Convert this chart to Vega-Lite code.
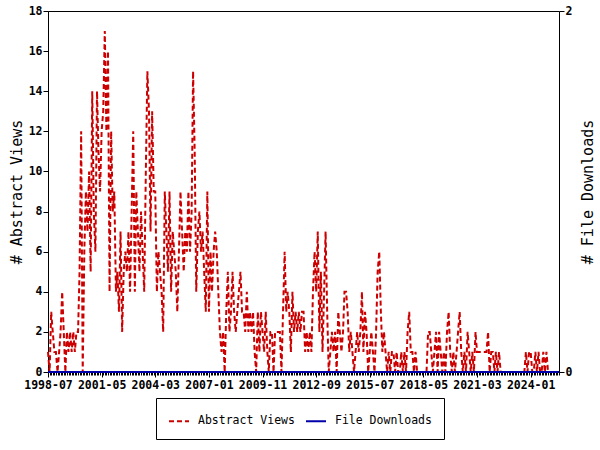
{
"$schema": "https://vega.github.io/schema/vega-lite/v6.json",
"width": 511, "height": 361,
"autosize": {"type": "none"},
"padding": {"left": 48, "top": 11, "right": 41, "bottom": 78},
"config": {"view": {"stroke": "black", "strokeWidth": 1}, "font": "DejaVu Sans Mono",
  "axis": {"grid": false, "domainColor": "black", "tickColor": "black", "labelColor": "black", "titleColor": "black"}},
"data": {"values": [
{"d":"1998-07-01","v":1,"dl":0},{"d":"1998-08-01","v":0,"dl":0},{"d":"1998-09-01","v":3,"dl":0},{"d":"1998-10-01","v":2,"dl":0},{"d":"1998-11-01","v":1,"dl":0},{"d":"1998-12-01","v":1,"dl":0},
{"d":"1999-01-01","v":0,"dl":0},{"d":"1999-02-01","v":1,"dl":0},{"d":"1999-03-01","v":2,"dl":0},{"d":"1999-04-01","v":4,"dl":0},{"d":"1999-05-01","v":2,"dl":0},{"d":"1999-06-01","v":0,"dl":0},{"d":"1999-07-01","v":2,"dl":0},{"d":"1999-08-01","v":1,"dl":0},{"d":"1999-09-01","v":2,"dl":0},{"d":"1999-10-01","v":1,"dl":0},{"d":"1999-11-01","v":2,"dl":0},{"d":"1999-12-01","v":1,"dl":0},
{"d":"2000-01-01","v":2,"dl":0},{"d":"2000-02-01","v":2,"dl":0},{"d":"2000-03-01","v":5,"dl":0},{"d":"2000-04-01","v":12,"dl":0},{"d":"2000-05-01","v":0,"dl":0},{"d":"2000-06-01","v":6,"dl":0},{"d":"2000-07-01","v":9,"dl":0},{"d":"2000-08-01","v":7,"dl":0},{"d":"2000-09-01","v":10,"dl":0},{"d":"2000-10-01","v":5,"dl":0},{"d":"2000-11-01","v":14,"dl":0},{"d":"2000-12-01","v":8,"dl":0},
{"d":"2001-01-01","v":6,"dl":0},{"d":"2001-02-01","v":14,"dl":0},{"d":"2001-03-01","v":11,"dl":0},{"d":"2001-04-01","v":9,"dl":0},{"d":"2001-05-01","v":12,"dl":0},{"d":"2001-06-01","v":13,"dl":0},{"d":"2001-07-01","v":17,"dl":0},{"d":"2001-08-01","v":12,"dl":0},{"d":"2001-09-01","v":16,"dl":0},{"d":"2001-10-01","v":4,"dl":0},{"d":"2001-11-01","v":12,"dl":0},{"d":"2001-12-01","v":8,"dl":0},
{"d":"2002-01-01","v":9,"dl":0},{"d":"2002-02-01","v":4,"dl":0},{"d":"2002-03-01","v":5,"dl":0},{"d":"2002-04-01","v":3,"dl":0},{"d":"2002-05-01","v":7,"dl":0},{"d":"2002-06-01","v":2,"dl":0},{"d":"2002-07-01","v":5,"dl":0},{"d":"2002-08-01","v":6,"dl":0},{"d":"2002-09-01","v":5,"dl":0},{"d":"2002-10-01","v":7,"dl":0},{"d":"2002-11-01","v":4,"dl":0},{"d":"2002-12-01","v":8,"dl":0},
{"d":"2003-01-01","v":12,"dl":0},{"d":"2003-02-01","v":4,"dl":0},{"d":"2003-03-01","v":9,"dl":0},{"d":"2003-04-01","v":7,"dl":0},{"d":"2003-05-01","v":5,"dl":0},{"d":"2003-06-01","v":8,"dl":0},{"d":"2003-07-01","v":6,"dl":0},{"d":"2003-08-01","v":4,"dl":0},{"d":"2003-09-01","v":10,"dl":0},{"d":"2003-10-01","v":15,"dl":0},{"d":"2003-11-01","v":13,"dl":0},{"d":"2003-12-01","v":7,"dl":0},
{"d":"2004-01-01","v":13,"dl":0},{"d":"2004-02-01","v":9,"dl":0},{"d":"2004-03-01","v":9,"dl":0},{"d":"2004-04-01","v":4,"dl":0},{"d":"2004-05-01","v":6,"dl":0},{"d":"2004-06-01","v":5,"dl":0},{"d":"2004-07-01","v":4,"dl":0},{"d":"2004-08-01","v":2,"dl":0},{"d":"2004-09-01","v":9,"dl":0},{"d":"2004-10-01","v":7,"dl":0},{"d":"2004-11-01","v":5,"dl":0},{"d":"2004-12-01","v":9,"dl":0},
{"d":"2005-01-01","v":4,"dl":0},{"d":"2005-02-01","v":7,"dl":0},{"d":"2005-03-01","v":6,"dl":0},{"d":"2005-04-01","v":5,"dl":0},{"d":"2005-05-01","v":3,"dl":0},{"d":"2005-06-01","v":6,"dl":0},{"d":"2005-07-01","v":9,"dl":0},{"d":"2005-08-01","v":7,"dl":0},{"d":"2005-09-01","v":5,"dl":0},{"d":"2005-10-01","v":7,"dl":0},{"d":"2005-11-01","v":6,"dl":0},{"d":"2005-12-01","v":9,"dl":0},
{"d":"2006-01-01","v":6,"dl":0},{"d":"2006-02-01","v":8,"dl":0},{"d":"2006-03-01","v":15,"dl":0},{"d":"2006-04-01","v":11,"dl":0},{"d":"2006-05-01","v":4,"dl":0},{"d":"2006-06-01","v":7,"dl":0},{"d":"2006-07-01","v":8,"dl":0},{"d":"2006-08-01","v":6,"dl":0},{"d":"2006-09-01","v":7,"dl":0},{"d":"2006-10-01","v":5,"dl":0},{"d":"2006-11-01","v":3,"dl":0},{"d":"2006-12-01","v":9,"dl":0},
{"d":"2007-01-01","v":3,"dl":0},{"d":"2007-02-01","v":6,"dl":0},{"d":"2007-03-01","v":4,"dl":0},{"d":"2007-04-01","v":6,"dl":0},{"d":"2007-05-01","v":7,"dl":0},{"d":"2007-06-01","v":6,"dl":0},{"d":"2007-07-01","v":4,"dl":0},{"d":"2007-08-01","v":2,"dl":0},{"d":"2007-09-01","v":1,"dl":0},{"d":"2007-10-01","v":2,"dl":0},{"d":"2007-11-01","v":0,"dl":0},{"d":"2007-12-01","v":3,"dl":0},
{"d":"2008-01-01","v":5,"dl":0},{"d":"2008-02-01","v":2,"dl":0},{"d":"2008-03-01","v":3,"dl":0},{"d":"2008-04-01","v":5,"dl":0},{"d":"2008-05-01","v":3,"dl":0},{"d":"2008-06-01","v":2,"dl":0},{"d":"2008-07-01","v":3,"dl":0},{"d":"2008-08-01","v":4,"dl":0},{"d":"2008-09-01","v":5,"dl":0},{"d":"2008-10-01","v":3,"dl":0},{"d":"2008-11-01","v":3,"dl":0},{"d":"2008-12-01","v":2,"dl":0},
{"d":"2009-01-01","v":4,"dl":0},{"d":"2009-02-01","v":2,"dl":0},{"d":"2009-03-01","v":3,"dl":0},{"d":"2009-04-01","v":2,"dl":0},{"d":"2009-05-01","v":3,"dl":0},{"d":"2009-06-01","v":1,"dl":0},{"d":"2009-07-01","v":0,"dl":0},{"d":"2009-08-01","v":3,"dl":0},{"d":"2009-09-01","v":1,"dl":0},{"d":"2009-10-01","v":3,"dl":0},{"d":"2009-11-01","v":2,"dl":0},{"d":"2009-12-01","v":1,"dl":0},
{"d":"2010-01-01","v":3,"dl":0},{"d":"2010-02-01","v":1,"dl":0},{"d":"2010-03-01","v":0,"dl":0},{"d":"2010-04-01","v":2,"dl":0},{"d":"2010-05-01","v":2,"dl":0},{"d":"2010-06-01","v":0,"dl":0},{"d":"2010-07-01","v":2,"dl":0},{"d":"2010-08-01","v":2,"dl":0},{"d":"2010-09-01","v":2,"dl":0},{"d":"2010-10-01","v":2,"dl":0},{"d":"2010-11-01","v":0,"dl":0},{"d":"2010-12-01","v":3,"dl":0},
{"d":"2011-01-01","v":6,"dl":0},{"d":"2011-02-01","v":3,"dl":0},{"d":"2011-03-01","v":4,"dl":0},{"d":"2011-04-01","v":3,"dl":0},{"d":"2011-05-01","v":1,"dl":0},{"d":"2011-06-01","v":4,"dl":0},{"d":"2011-07-01","v":2,"dl":0},{"d":"2011-08-01","v":3,"dl":0},{"d":"2011-09-01","v":2,"dl":0},{"d":"2011-10-01","v":3,"dl":0},{"d":"2011-11-01","v":2,"dl":0},{"d":"2011-12-01","v":3,"dl":0},
{"d":"2012-01-01","v":3,"dl":0},{"d":"2012-02-01","v":1,"dl":0},{"d":"2012-03-01","v":2,"dl":0},{"d":"2012-04-01","v":1,"dl":0},{"d":"2012-05-01","v":2,"dl":0},{"d":"2012-06-01","v":1,"dl":0},{"d":"2012-07-01","v":4,"dl":0},{"d":"2012-08-01","v":6,"dl":0},{"d":"2012-09-01","v":4,"dl":0},{"d":"2012-10-01","v":7,"dl":0},{"d":"2012-11-01","v":2,"dl":0},{"d":"2012-12-01","v":5,"dl":0},
{"d":"2013-01-01","v":1,"dl":0},{"d":"2013-02-01","v":4,"dl":0},{"d":"2013-03-01","v":7,"dl":0},{"d":"2013-04-01","v":3,"dl":0},{"d":"2013-05-01","v":0,"dl":0},{"d":"2013-06-01","v":1,"dl":0},{"d":"2013-07-01","v":2,"dl":0},{"d":"2013-08-01","v":1,"dl":0},{"d":"2013-09-01","v":2,"dl":0},{"d":"2013-10-01","v":0,"dl":0},{"d":"2013-11-01","v":3,"dl":0},{"d":"2013-12-01","v":2,"dl":0},
{"d":"2014-01-01","v":1,"dl":0},{"d":"2014-02-01","v":2,"dl":0},{"d":"2014-03-01","v":4,"dl":0},{"d":"2014-04-01","v":4,"dl":0},{"d":"2014-05-01","v":3,"dl":0},{"d":"2014-06-01","v":1,"dl":0},{"d":"2014-07-01","v":2,"dl":0},{"d":"2014-08-01","v":1,"dl":0},{"d":"2014-09-01","v":0,"dl":0},{"d":"2014-10-01","v":1,"dl":0},{"d":"2014-11-01","v":2,"dl":0},{"d":"2014-12-01","v":1,"dl":0},
{"d":"2015-01-01","v":2,"dl":0},{"d":"2015-02-01","v":4,"dl":0},{"d":"2015-03-01","v":1,"dl":0},{"d":"2015-04-01","v":3,"dl":0},{"d":"2015-05-01","v":2,"dl":0},{"d":"2015-06-01","v":0,"dl":0},{"d":"2015-07-01","v":1,"dl":0},{"d":"2015-08-01","v":2,"dl":0},{"d":"2015-09-01","v":1,"dl":0},{"d":"2015-10-01","v":0,"dl":0},{"d":"2015-11-01","v":2,"dl":0},{"d":"2015-12-01","v":5,"dl":0},
{"d":"2016-01-01","v":6,"dl":0},{"d":"2016-02-01","v":3,"dl":0},{"d":"2016-03-01","v":1,"dl":0},{"d":"2016-04-01","v":2,"dl":0},{"d":"2016-05-01","v":1,"dl":0},{"d":"2016-06-01","v":0,"dl":0},{"d":"2016-07-01","v":1,"dl":0},{"d":"2016-08-01","v":0,"dl":0},{"d":"2016-09-01","v":1,"dl":0},{"d":"2016-10-01","v":1,"dl":0},{"d":"2016-11-01","v":0,"dl":0},{"d":"2016-12-01","v":1,"dl":0},
{"d":"2017-01-01","v":0,"dl":0},{"d":"2017-02-01","v":0,"dl":0},{"d":"2017-03-01","v":1,"dl":0},{"d":"2017-04-01","v":0,"dl":0},{"d":"2017-05-01","v":1,"dl":0},{"d":"2017-06-01","v":0,"dl":0},{"d":"2017-07-01","v":2,"dl":0},{"d":"2017-08-01","v":3,"dl":0},{"d":"2017-09-01","v":1,"dl":0},{"d":"2017-10-01","v":1,"dl":0},{"d":"2017-11-01","v":0,"dl":0},{"d":"2017-12-01","v":1,"dl":0},
{"d":"2018-01-01","v":0,"dl":0},{"d":"2018-02-01","v":0,"dl":0},{"d":"2018-03-01","v":0,"dl":0},{"d":"2018-04-01","v":0,"dl":0},{"d":"2018-05-01","v":0,"dl":0},{"d":"2018-06-01","v":0,"dl":0},{"d":"2018-07-01","v":0,"dl":0},{"d":"2018-08-01","v":2,"dl":0},{"d":"2018-09-01","v":2,"dl":0},{"d":"2018-10-01","v":1,"dl":0},{"d":"2018-11-01","v":0,"dl":0},{"d":"2018-12-01","v":1,"dl":0},
{"d":"2019-01-01","v":2,"dl":0},{"d":"2019-02-01","v":0,"dl":0},{"d":"2019-03-01","v":2,"dl":0},{"d":"2019-04-01","v":1,"dl":0},{"d":"2019-05-01","v":0,"dl":0},{"d":"2019-06-01","v":1,"dl":0},{"d":"2019-07-01","v":0,"dl":0},{"d":"2019-08-01","v":2,"dl":0},{"d":"2019-09-01","v":3,"dl":0},{"d":"2019-10-01","v":1,"dl":0},{"d":"2019-11-01","v":0,"dl":0},{"d":"2019-12-01","v":1,"dl":0},
{"d":"2020-01-01","v":0,"dl":0},{"d":"2020-02-01","v":1,"dl":0},{"d":"2020-03-01","v":2,"dl":0},{"d":"2020-04-01","v":3,"dl":0},{"d":"2020-05-01","v":1,"dl":0},{"d":"2020-06-01","v":0,"dl":0},{"d":"2020-07-01","v":1,"dl":0},{"d":"2020-08-01","v":0,"dl":0},{"d":"2020-09-01","v":2,"dl":0},{"d":"2020-10-01","v":1,"dl":0},{"d":"2020-11-01","v":0,"dl":0},{"d":"2020-12-01","v":1,"dl":0},
{"d":"2021-01-01","v":0,"dl":0},{"d":"2021-02-01","v":2,"dl":0},{"d":"2021-03-01","v":1,"dl":0},{"d":"2021-04-01","v":1,"dl":0},{"d":"2021-05-01","v":1,"dl":0},{"d":"2021-06-01","v":1,"dl":0},{"d":"2021-07-01","v":1,"dl":0},{"d":"2021-08-01","v":1,"dl":0},{"d":"2021-09-01","v":1,"dl":0},{"d":"2021-10-01","v":2,"dl":0},{"d":"2021-11-01","v":0,"dl":0},{"d":"2021-12-01","v":1,"dl":0},
{"d":"2022-01-01","v":1,"dl":0},{"d":"2022-02-01","v":0,"dl":0},{"d":"2022-03-01","v":1,"dl":0},{"d":"2022-04-01","v":0,"dl":0},{"d":"2022-05-01","v":1,"dl":0},{"d":"2022-06-01","v":0,"dl":0},{"d":"2022-07-01","v":0,"dl":0},{"d":"2022-08-01","v":0,"dl":0},{"d":"2022-09-01","v":0,"dl":0},{"d":"2022-10-01","v":0,"dl":0},{"d":"2022-11-01","v":0,"dl":0},{"d":"2022-12-01","v":0,"dl":0},
{"d":"2023-01-01","v":0,"dl":0},{"d":"2023-02-01","v":0,"dl":0},{"d":"2023-03-01","v":0,"dl":0},{"d":"2023-04-01","v":0,"dl":0},{"d":"2023-05-01","v":0,"dl":0},{"d":"2023-06-01","v":0,"dl":0},{"d":"2023-07-01","v":0,"dl":0},{"d":"2023-08-01","v":0,"dl":0},{"d":"2023-09-01","v":0,"dl":0},{"d":"2023-10-01","v":1,"dl":0},{"d":"2023-11-01","v":0,"dl":0},{"d":"2023-12-01","v":1,"dl":0},
{"d":"2024-01-01","v":1,"dl":0},{"d":"2024-02-01","v":0,"dl":0},{"d":"2024-03-01","v":0,"dl":0},{"d":"2024-04-01","v":1,"dl":0},{"d":"2024-05-01","v":0,"dl":0},{"d":"2024-06-01","v":1,"dl":0},{"d":"2024-07-01","v":0,"dl":0},{"d":"2024-08-01","v":0,"dl":0},{"d":"2024-09-01","v":1,"dl":0},{"d":"2024-10-01","v":0,"dl":0},{"d":"2024-11-01","v":1,"dl":0},{"d":"2024-12-01","v":0,"dl":0},
{"d":"2025-01-01","v":0,"dl":0},{"d":"2025-02-01","v":0,"dl":0},{"d":"2025-03-01","v":0,"dl":0},{"d":"2025-04-01","v":0,"dl":0},{"d":"2025-05-01","v":0,"dl":0},{"d":"2025-06-01","v":0,"dl":0},{"d":"2025-07-01","v":0,"dl":0}
]},
"layer": [
 {
  "mark": {"type": "line", "strokeWidth": 2, "strokeDash": [5, 3], "clip": false},
  "encoding": {
   "x": {"field": "d", "type": "temporal",
     "scale": {"type": "utc", "nice": false, "domain": [{"year": 1998, "month": 7, "date": 1, "utc": true}, {"year": 2025, "month": 7, "date": 1, "utc": true}]},
     "axis": {"orient": "bottom", "title": null, "format": "%Y-%m", "labelFontSize": 11.5, "labelFontWeight": "bold", "tickSize": 5, "labelPadding": 2, "labelFlush": false, "labelOverlap": false, "domain": true,
       "values": [{"year":1998,"month":7,"date":1,"utc":true},{"year":2001,"month":5,"date":1,"utc":true},{"year":2004,"month":3,"date":1,"utc":true},{"year":2007,"month":1,"date":1,"utc":true},{"year":2009,"month":11,"date":1,"utc":true},{"year":2012,"month":9,"date":1,"utc":true},{"year":2015,"month":7,"date":1,"utc":true},{"year":2018,"month":5,"date":1,"utc":true},{"year":2021,"month":3,"date":1,"utc":true},{"year":2024,"month":1,"date":1,"utc":true}]}},
   "y": {"field": "v", "type": "quantitative", "scale": {"domain": [0, 18], "nice": false},
     "axis": {"orient": "left", "values": [0,2,4,6,8,10,12,14,16,18], "title": "# Abstract Views", "titleFontSize": 15, "titleFontWeight": "normal", "titlePadding": 4, "labelFontSize": 11.5, "labelFontWeight": "bold", "tickSize": 5, "labelPadding": 1}},
   "color": {"datum": "Abstract Views", "scale": {"domain": ["Abstract Views", "File Downloads"], "range": ["#cc0000", "#0000aa"]},
     "legend": {"orient": "none", "legendX": 108, "legendY": 387, "direction": "horizontal", "title": null, "strokeColor": "black", "padding": 12, "symbolType": "stroke", "symbolSize": 400, "symbolStrokeWidth": 2, "labelFontSize": 11.5, "labelOffset": 8, "columnPadding": 7,
       "encode": {"symbols": {"update": {"strokeDash": {"signal": "datum.value === 'Abstract Views' ? [5, 3] : [1, 0]"}}}}}}
  }
 },
 {
  "mark": {"type": "line", "strokeWidth": 2, "clip": false},
  "encoding": {
   "x": {"field": "d", "type": "temporal",
     "axis": {"orient": "bottom", "title": null, "labels": false, "domain": false, "tickSize": 3, "tickCount": {"interval": "month", "step": 1}}},
   "y": {"field": "dl", "type": "quantitative", "scale": {"domain": [0, 2], "nice": false},
     "axis": {"orient": "right", "values": [0, 2], "title": "# File Downloads", "titleAngle": 270, "titleFontSize": 15, "titleFontWeight": "normal", "titlePadding": 24, "labelFontSize": 11.5, "labelFontWeight": "bold", "tickSize": 5, "labelPadding": 1, "domain": false}},
   "color": {"datum": "File Downloads"}
  }
 }
],
"resolve": {"scale": {"y": "independent"}, "axis": {"x": "independent"}}
}
